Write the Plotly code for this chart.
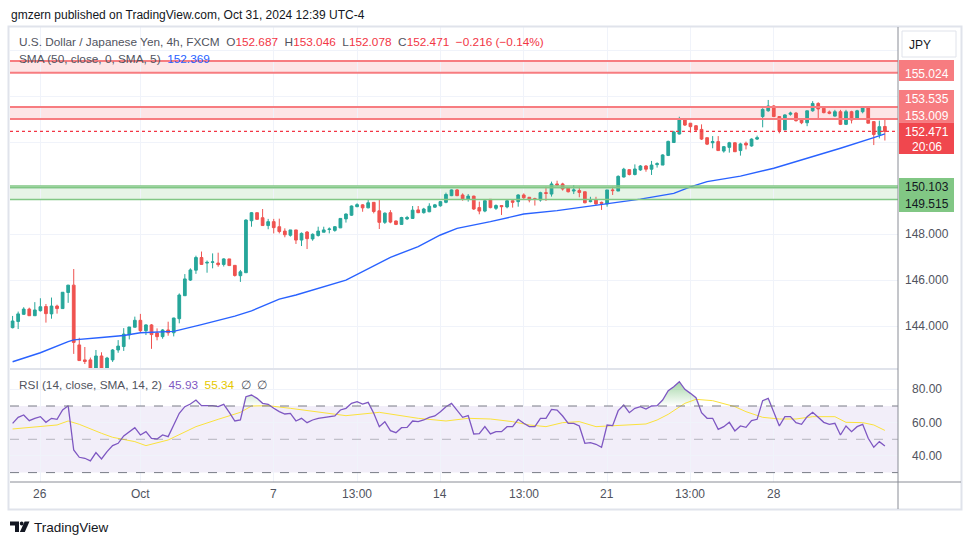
import plotly.graph_objects as go

W, H = 970, 545


def py(p):
    return 1 - p / H


def px(p):
    return p / W


# ---------------- data (USD/JPY 4h, FXCM) ----------------
opens = [143.94, 144.21, 144.52, 144.75, 144.46, 144.68, 144.86, 144.54, 144.88, 144.77,
         145.47, 145.79, 143.19, 142.54, 142.54, 142.12, 142.71, 142.15, 142.54, 142.97,
         143.12, 143.63, 143.96, 144.26, 143.81, 144.06, 143.71, 143.55, 143.84, 143.72,
         144.33, 145.33, 146.01, 146.44, 146.99, 146.75, 146.78, 146.75, 146.69, 146.93,
         146.65, 146.20, 146.33, 148.59, 148.94, 148.72, 148.38, 148.55, 148.33, 148.14,
         147.96, 148.19, 147.75, 148.10, 147.80, 147.95, 148.09, 148.21, 148.17, 148.28,
         148.67, 148.83, 149.20, 149.28, 149.15, 149.39, 149.02, 148.52, 148.94, 148.58,
         148.43, 148.67, 148.69, 149.06, 148.94, 148.98, 149.18, 149.24, 149.39, 149.68,
         149.93, 149.71, 149.52, 149.66, 149.16, 149.01, 149.52, 149.13, 149.25, 149.19,
         149.46, 149.42, 149.71, 149.61, 149.55, 149.49, 149.81, 149.75, 150.19, 150.19,
         150.03, 149.88, 149.90, 149.85, 149.42, 149.49, 149.39, 149.32, 149.93, 149.88,
         150.49, 150.81, 150.60, 150.80, 150.97, 150.83, 151.03, 151.01, 151.43, 151.99,
         152.36, 153.00, 152.83, 152.72, 152.56, 152.20, 151.98, 152.03, 151.62, 151.78,
         151.98, 151.64, 151.96, 151.84, 152.14, 153.12, 153.37, 153.58, 153.12, 152.54,
         153.22, 153.27, 153.00, 152.85, 153.37, 153.69, 153.48, 153.32, 153.14, 153.33,
         152.78, 153.33, 153.00, 153.33, 153.52, 152.90, 152.34, 152.687]
highs = [144.45, 144.64, 144.83, 144.81, 145.05, 145.22, 144.97, 145.25, 144.94, 145.49,
         145.80, 146.49, 143.50, 143.10, 142.64, 142.97, 142.87, 142.67, 143.01, 143.40,
         143.92, 143.97, 144.42, 144.54, 144.09, 144.10, 143.91, 143.88, 144.20, 144.37,
         145.43, 146.27, 146.52, 147.07, 147.25, 146.86, 147.17, 147.20, 146.96, 146.93,
         146.65, 146.45, 148.65, 148.97, 148.94, 149.10, 148.67, 148.67, 148.68, 148.26,
         148.19, 148.19, 148.08, 148.14, 148.04, 148.33, 148.33, 148.30, 148.36, 148.70,
         148.91, 149.25, 149.35, 149.31, 149.52, 149.40, 149.52, 148.95, 149.05, 148.60,
         148.76, 148.80, 149.23, 149.23, 149.15, 149.35, 149.32, 149.45, 149.81, 149.95,
         149.97, 149.78, 149.75, 149.68, 149.42, 149.49, 149.53, 149.30, 149.26, 149.49,
         149.48, 149.74, 149.78, 149.61, 149.59, 149.85, 150.07, 150.29, 150.33, 150.24,
         150.03, 150.14, 150.07, 149.85, 149.63, 149.63, 149.42, 149.93, 150.07, 150.56,
         150.89, 150.82, 151.04, 151.01, 151.01, 151.19, 151.13, 151.48, 152.07, 152.50,
         153.11, 153.04, 152.84, 152.75, 152.78, 152.20, 152.27, 152.27, 151.84, 152.02,
         152.00, 151.98, 152.03, 152.17, 152.29, 153.48, 153.84, 153.62, 153.12, 153.22,
         153.33, 153.32, 153.00, 153.37, 153.79, 153.74, 153.55, 153.38, 153.41, 153.41,
         153.41, 153.37, 153.41, 153.55, 153.57, 152.90, 152.94, 153.046]
lows = [143.91, 143.88, 144.50, 144.45, 144.45, 144.64, 144.16, 144.33, 144.55, 144.77,
        145.02, 142.80, 142.51, 142.36, 142.05, 142.05, 142.05, 142.05, 142.45, 142.85,
        142.93, 143.43, 143.95, 143.74, 143.62, 143.02, 143.39, 143.46, 143.59, 143.56,
        144.13, 145.32, 145.97, 146.28, 146.68, 146.33, 146.52, 146.59, 146.60, 146.62,
        146.16, 145.93, 146.33, 148.33, 148.64, 148.38, 148.22, 148.04, 148.04, 147.87,
        147.90, 147.58, 147.49, 147.36, 147.72, 147.90, 148.09, 148.04, 148.11, 148.27,
        148.51, 148.80, 149.18, 148.98, 149.13, 148.91, 148.23, 148.45, 148.48, 148.40,
        148.42, 148.62, 148.67, 148.92, 148.90, 148.96, 149.15, 149.20, 149.35, 149.66,
        149.66, 149.46, 149.42, 149.06, 148.87, 148.96, 149.13, 149.06, 148.84, 149.13,
        149.16, 149.20, 149.52, 149.39, 149.25, 149.42, 149.45, 149.64, 150.11, 149.90,
        149.82, 149.75, 149.61, 149.35, 149.39, 149.27, 149.06, 149.20, 149.71, 149.88,
        150.47, 150.56, 150.56, 150.76, 150.72, 150.58, 150.90, 151.01, 151.40, 151.98,
        152.34, 152.71, 152.42, 152.46, 152.10, 151.88, 151.74, 151.64, 151.55, 151.55,
        151.58, 151.42, 151.69, 151.81, 152.10, 152.65, 153.33, 153.09, 152.39, 152.54,
        153.16, 152.90, 152.79, 152.70, 153.33, 152.97, 153.26, 153.22, 153.12, 152.75,
        152.75, 152.82, 152.97, 153.26, 152.83, 151.88, 152.17, 152.078]
closes = [144.23, 144.54, 144.75, 144.46, 144.71, 144.85, 144.55, 144.88, 144.77, 145.48,
          145.79, 143.30, 142.51, 142.47, 142.12, 142.71, 142.15, 142.62, 142.97, 143.14,
          143.66, 143.97, 144.26, 143.81, 144.06, 143.64, 143.55, 143.84, 143.72, 144.36,
          145.36, 146.06, 146.45, 146.99, 146.69, 146.78, 146.80, 146.68, 146.93, 146.64,
          146.21, 146.37, 148.62, 148.94, 148.65, 148.38, 148.55, 148.29, 148.12, 147.98,
          148.19, 147.75, 148.04, 147.81, 148.00, 148.14, 148.19, 148.23, 148.33, 148.69,
          148.88, 149.23, 149.29, 149.15, 149.37, 148.99, 148.52, 148.92, 148.53, 148.43,
          148.73, 148.73, 149.05, 148.94, 149.10, 149.22, 149.28, 149.42, 149.73, 149.93,
          149.68, 149.54, 149.66, 149.10, 149.01, 149.46, 149.16, 149.25, 149.20, 149.46,
          149.39, 149.71, 149.59, 149.49, 149.52, 149.81, 149.78, 150.19, 150.14, 149.97,
          149.85, 149.93, 149.82, 149.37, 149.46, 149.32, 149.35, 149.93, 149.90, 150.52,
          150.83, 150.60, 150.84, 150.97, 150.83, 151.01, 151.07, 151.45, 152.04, 152.45,
          153.00, 152.75, 152.68, 152.54, 152.14, 151.92, 152.03, 151.64, 151.81, 151.98,
          151.59, 151.93, 151.88, 152.14, 152.20, 153.43, 153.58, 153.12, 152.51, 153.19,
          153.27, 152.94, 152.85, 153.37, 153.69, 153.45, 153.29, 153.26, 153.33, 152.78,
          153.33, 152.97, 153.37, 153.52, 152.83, 152.34, 152.68, 152.471]

# SMA(50): (bar index, value)
sma_idx = [0, 5, 10, 11, 16, 20, 23, 29, 34, 40, 43, 48, 51, 60, 68, 73, 77, 80, 86,
           92, 98, 104, 107, 113, 119, 122, 125, 131, 137, 143, 149, 155, 157]
sma_val = [142.46, 142.85, 143.33, 143.41, 143.51, 143.60, 143.72, 143.78, 144.07, 144.44,
           144.67, 145.18, 145.36, 146.01, 147.00, 147.46, 147.97, 148.26, 148.55, 148.88,
           149.03, 149.23, 149.32, 149.53, 149.78, 150.06, 150.29, 150.53, 150.87, 151.30,
           151.74, 152.20, 152.369]

rsi = [59.6, 63.2, 64.6, 61.2, 62.6, 63.6, 60.2, 62.6, 62.0, 67.6,
       70.2, 43.6, 39.2, 38.6, 37.0, 42.0, 38.2, 42.6, 46.2, 47.6,
       52.0, 54.6, 57.0, 52.6, 54.6, 50.6, 50.2, 52.6, 51.6, 58.6,
       65.6, 69.6, 71.2, 73.6, 70.2, 70.2, 70.2, 69.6, 71.0, 66.2,
       61.0, 61.6, 75.6, 76.6, 74.6, 71.6, 71.0, 68.6, 66.6, 65.2,
       65.6, 61.0, 62.6, 60.0, 61.6, 62.6, 63.0, 63.2, 64.0, 67.6,
       68.6, 71.6, 72.6, 71.2, 72.2, 65.6, 57.6, 60.6, 55.2, 54.0,
       57.0, 57.2, 61.0, 60.6, 61.6, 63.2, 64.0, 66.6, 69.6, 71.6,
       67.6, 63.2, 64.2, 53.2, 53.4, 57.6, 53.2, 54.6, 54.6, 57.6,
       57.6, 62.0, 59.6, 57.6, 57.6, 62.6, 62.6, 68.0, 67.6, 64.0,
       59.6, 59.6, 58.0, 47.6, 48.0, 47.0, 45.2, 58.6, 58.2, 67.2,
       70.6, 66.0, 68.6, 69.6, 68.2, 70.0, 70.2, 73.6, 79.2, 81.6,
       84.6, 80.0, 77.6, 75.0, 66.0, 62.6, 62.6, 56.0, 57.6, 60.2,
       55.0, 58.0, 57.2, 61.2, 62.0, 73.2, 74.6, 66.6, 58.0, 63.6,
       63.6, 60.0, 59.0, 63.6, 66.2, 63.2, 60.2, 59.0, 59.6, 52.6,
       58.0, 54.6, 57.6, 59.0, 50.6, 45.2, 48.6, 45.93]

rsi_ma_idx = [0, 4, 8, 10, 12, 16, 18, 22, 24, 28, 33, 37, 41, 43, 46, 50, 54, 58, 60, 66,
              70, 73, 78, 82, 86, 90, 93, 96, 99, 102, 105, 109, 114, 116, 118, 121, 123,
              126, 130, 132, 135, 138, 141, 144, 148, 150, 153, 155, 157]
rsi_ma_val = [56.2, 57.6, 58.6, 61.0, 59.0, 53.6, 51.2, 48.6, 46.2, 49.6, 57.6, 62.0, 66.2,
              70.0, 70.2, 68.6, 67.0, 65.0, 64.2, 66.2, 64.2, 62.6, 61.0, 62.6, 62.2, 60.6,
              58.6, 57.6, 60.0, 60.6, 57.6, 58.2, 59.2, 61.6, 65.0, 71.6, 74.0, 73.2, 69.6,
              66.6, 63.2, 62.2, 62.2, 63.6, 63.6, 60.2, 60.0, 58.6, 55.34]

tick_idx = [5, 23, 47, 62, 77, 92, 107, 122, 137]
tick_text = ["26", "Oct", "7", "13:00", "14", "13:00", "21", "13:00", "28"]

zone_top = [155.024, 155.54]
zone_mid = [153.009, 153.535]
zone_green = [149.515, 150.103]
green_inner = 150.02
last_price = 152.471
price_ticks = [144, 146, 148, 150, 152, 154, 156]
price_labels = [144, 146, 148]
rsi_ticks = [40, 60, 80]

# ---------------- geometry ----------------
X0, X1 = 10, 898          # plot area (px)
P_TOP, P_BOT = 27, 368    # price pane
R_TOP, R_BOT = 370, 482   # rsi pane
n = len(closes)
idx = list(range(n))
BAR = 5.556
xr = [(X0 - 12.6) / BAR, (X1 - 12.6) / BAR]
y_lo = 148 - (P_BOT - 234.3) / 23
y_hi = 148 + (234.3 - P_TOP) / 23
r_lo = 50 - (R_BOT - 439.3) / 1.665
r_hi = 50 + (439.3 - R_TOP) / 1.665

FONT = "Liberation Sans"
TXT = "#131722"
LEG = "#50535e"
GRAY = "#787b86"
RED = "#f23645"
UP, DN = "#26a69a", "#ef5350"

fig = go.Figure()
# last-price dotted line (drawn first so candles sit on top)
fig.add_trace(go.Scatter(x=xr, y=[last_price, last_price], mode="lines",
                         line=dict(color="rgb(242,54,69)", width=1.2, dash="dot"),
                         hoverinfo="skip", showlegend=False, xaxis="x", yaxis="y",
                         cliponaxis=False))
fig.add_trace(go.Candlestick(
    x=idx, open=opens, high=highs, low=lows, close=closes,
    increasing=dict(line=dict(color=UP, width=1), fillcolor=UP),
    decreasing=dict(line=dict(color=DN, width=1), fillcolor=DN),
    whiskerwidth=0, hoverinfo="skip", showlegend=False, xaxis="x", yaxis="y"))
fig.add_trace(go.Scatter(x=sma_idx, y=sma_val, mode="lines",
                         line=dict(color="#2962ff", width=1.4), hoverinfo="skip",
                         showlegend=False, xaxis="x", yaxis="y"))

# RSI overbought gradient fill
fig.add_trace(go.Scatter(x=idx, y=[70] * n, mode="lines", line=dict(width=0),
                         hoverinfo="skip", showlegend=False, xaxis="x2", yaxis="y2"))
fig.add_trace(go.Scatter(x=idx, y=[max(r, 70) for r in rsi], mode="lines",
                         line=dict(width=0), fill="tonexty",
                         fillgradient=dict(type="vertical", start=70, stop=86,
                                           colorscale=[[0, "rgba(76,175,80,0)"],
                                                       [1, "rgba(76,175,80,0.55)"]]),
                         hoverinfo="skip", showlegend=False, xaxis="x2", yaxis="y2"))
fig.add_trace(go.Scatter(x=rsi_ma_idx, y=rsi_ma_val, mode="lines",
                         line=dict(color="#fbe23c", width=1), hoverinfo="skip",
                         showlegend=False, xaxis="x2", yaxis="y2"))
fig.add_trace(go.Scatter(x=idx, y=rsi, mode="lines",
                         line=dict(color="#7e57c2", width=1.3), hoverinfo="skip",
                         showlegend=False, xaxis="x2", yaxis="y2"))

shapes = []
# RSI band
shapes.append(dict(type="rect", xref="x2 domain", yref="y2", x0=0, x1=1, y0=30, y1=70,
                   fillcolor="rgba(126,87,194,0.10)", line=dict(width=0), layer="below"))
for lv, col in [(70, GRAY), (30, GRAY), (50, "rgba(120,123,134,0.5)")]:
    shapes.append(dict(type="line", xref="x2 domain", yref="y2", x0=0, x1=1, y0=lv, y1=lv,
                       line=dict(color=col, width=1, dash="dash")))
# zones
for (a, b), fc, lc, lw in [(zone_top, "rgba(247,124,128,0.2)", "#f77c80", 2),
                           (zone_mid, "rgba(247,124,128,0.2)", "#f77c80", 2),
                           (zone_green, "rgba(129,199,132,0.2)", "#81c784", 1.5)]:
    shapes.append(dict(type="rect", xref="x domain", yref="y", x0=0, x1=1, y0=a, y1=b,
                       fillcolor=fc, line=dict(width=0), layer="below"))
    for lv in (a, b):
        shapes.append(dict(type="line", xref="x domain", yref="y", x0=0, x1=1, y0=lv, y1=lv,
                           line=dict(color=lc, width=lw)))
shapes.append(dict(type="line", xref="x domain", yref="y", x0=0, x1=1, y0=green_inner,
                   y1=green_inner, line=dict(color="#81c784", width=1.5)))

# frame and separators
shapes.append(dict(type="rect", xref="paper", yref="paper", x0=px(8.5), x1=px(961.5),
                   y0=py(509.5), y1=py(26.5), line=dict(color="#e0e3eb", width=2)))
shapes.append(dict(type="line", xref="paper", yref="paper", x0=px(X0), x1=px(X1),
                   y0=py(369), y1=py(369), line=dict(color="#e0e3eb", width=2)))
shapes.append(dict(type="line", xref="paper", yref="paper", x0=px(X1), x1=px(X1),
                   y0=py(509), y1=py(27), line=dict(color="#8a8d96", width=1)))
shapes.append(dict(type="line", xref="paper", yref="paper", x0=px(X0), x1=px(961),
                   y0=py(482), y1=py(482), line=dict(color="#8a8d96", width=1)))


# right-hand price labels (boxes)
def box(x0, x1, y0, y1, col):
    shapes.append(dict(type="rect", xref="paper", yref="paper", x0=px(x0), x1=px(x1),
                       y0=py(y1), y1=py(y0), fillcolor=col, line=dict(width=0)))


box(899, 954, 60, 81, "#f77c80")
box(899, 954, 90, 122.5, "#f77c80")
box(899, 954, 122.5, 154, "#f0474e")
box(899, 954, 178, 212, "#81c784")
# JPY button
shapes.append(dict(type="rect", xref="paper", yref="paper", x0=px(902), x1=px(956),
                   y0=py(57), y1=py(31), fillcolor="white",
                   line=dict(color="#e0e3eb", width=1)))

# TradingView logo
shapes.append(dict(type="path", xref="paper", yref="paper",
                   path=f"M {px(10)},{py(521.5)} L {px(19)},{py(521.5)} L {px(19)},{py(532)} "
                        f"L {px(15)},{py(532)} L {px(15)},{py(525.5)} L {px(10)},{py(525.5)} Z",
                   fillcolor=TXT, line=dict(width=0)))
shapes.append(dict(type="circle", xref="paper", yref="paper", x0=px(19.8), x1=px(23.6),
                   y0=py(525.4), y1=py(521.6), fillcolor=TXT, line=dict(width=0)))
shapes.append(dict(type="path", xref="paper", yref="paper",
                   path=f"M {px(24.6)},{py(521.5)} L {px(29.5)},{py(521.5)} L {px(24.8)},{py(532)} "
                        f"L {px(19.9)},{py(532)} Z",
                   fillcolor=TXT, line=dict(width=0)))

ann = []


def txt(x, y, s, size=12, color=TXT, anchor="left", yref="paper", xref="paper"):
    ann.append(dict(x=x, y=y, xref=xref, yref=yref, text=s, showarrow=False,
                    xanchor=anchor, yanchor="middle",
                    font=dict(family=FONT, size=size, color=color)))


SP = "&nbsp; "
txt(px(9), py(15), "gmzern published on TradingView.com, Oct 31, 2024 12:39 UTC-4", 12)
hdr = (f"U.S. Dollar / Japanese Yen, 4h, FXCM{SP}"
       f"O<span style='color:{RED}'>152.687</span>{SP}"
       f"H<span style='color:{RED}'>153.046</span>{SP}"
       f"L<span style='color:{RED}'>152.078</span>{SP}"
       f"C<span style='color:{RED}'>152.471</span>{SP}"
       f"<span style='color:{RED}'>−0.216 (−0.14%)</span>")
txt(px(17), py(42), hdr, 11.8, LEG)
txt(px(17), py(59), f"SMA (50, close, 0, SMA, 5){SP}<span style='color:#2962ff'>152.369</span>",
    11.8, LEG)
txt(px(17), py(385), f"RSI (14, close, SMA, 14, 2){SP}<span style='color:#7e57c2'>45.93</span>"
    f"{SP}<span style='color:#e6c700'>55.34</span>{SP}∅{SP}∅", 11.8, LEG)

for i, t in zip(tick_idx, tick_text):
    txt(i, py(494), t, 12, LEG, "center", xref="x")
for p in price_labels:
    txt(px(926.5), p, f"{p:.3f}", 12, LEG, "center", yref="y")
for r in rsi_ticks:
    txt(px(926.5), r, f"{r:.2f}", 12, LEG, "center", yref="y2")

txt(px(926.5), py(74), "155.024", 12, "white", "center")
txt(px(926.5), py(99), "153.535", 12, "white", "center")
txt(px(926.5), py(115.5), "153.009", 12, "white", "center")
txt(px(926.5), py(132), "152.471", 12, "white", "center")
txt(px(926.5), py(147), "20:06", 12, "white", "center")
txt(px(926.5), py(187), "150.103", 12, TXT, "center")
txt(px(926.5), py(203.5), "149.515", 12, TXT, "center")
txt(px(920), py(45), "JPY", 12, TXT, "center")
txt(px(32), py(527), "TradingView", 13.5, TXT)

axis_common = dict(range=xr, tickvals=tick_idx, showticklabels=False, showgrid=True,
                   gridcolor="#f0f3fa", gridwidth=1, zeroline=False, showline=False,
                   ticks="", fixedrange=True)

fig.update_layout(
    width=W, height=H, margin=dict(l=0, r=0, t=0, b=0),
    paper_bgcolor="white", plot_bgcolor="white", showlegend=False,
    xaxis=dict(domain=[px(X0), px(X1)], anchor="y", rangeslider=dict(visible=False),
               **axis_common),
    xaxis2=dict(domain=[px(X0), px(X1)], anchor="y2", matches="x", **axis_common),
    yaxis=dict(domain=[py(P_BOT), py(P_TOP)], range=[y_lo, y_hi], tickvals=price_ticks,
               showticklabels=False, showgrid=True, gridcolor="#f0f3fa", zeroline=False,
               fixedrange=True),
    yaxis2=dict(domain=[py(R_BOT), py(R_TOP)], range=[r_lo, r_hi], tickvals=rsi_ticks,
                showticklabels=False, showgrid=True, gridcolor="#f0f3fa", zeroline=False,
                fixedrange=True),
    shapes=shapes, annotations=ann,
)

fig.write_html("out.html")
